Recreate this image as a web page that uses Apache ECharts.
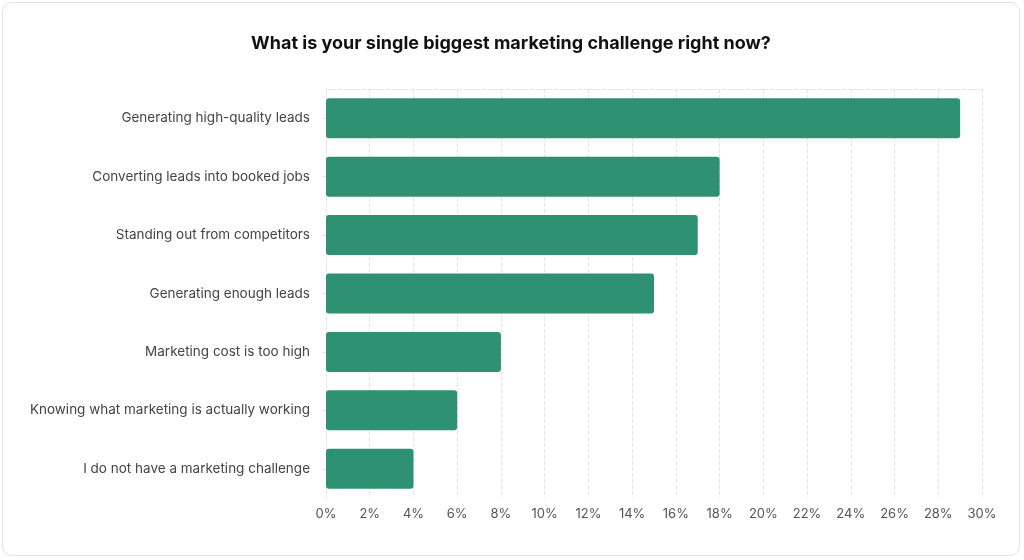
<!DOCTYPE html><html><head><meta charset="utf-8"><script src="https://cdn.jsdelivr.net/npm/echarts@6/dist/echarts.min.js"></script>
<style>html,body{margin:0;background:#fff}#c{position:absolute;left:2px;top:2px;width:1018px;height:554px;border:1px solid #e2e2e2;border-radius:10px;box-sizing:border-box}</style></head><body><div id="c"></div><script>
const categories=["Generating high-quality leads","Converting leads into booked jobs","Standing out from competitors","Generating enough leads","Marketing cost is too high","Knowing what marketing is actually working","I do not have a marketing challenge"];
const values=[29,18,17,15,8,6,4];
const ch=echarts.init(document.getElementById('c'));
const dash={color:'#e4e4e4',type:'dashed',width:1};
ch.setOption({
title:{text:'What is your single biggest marketing challenge right now?',left:'center',top:27,textStyle:{fontFamily:'Inter',fontSize:18,fontWeight:'bold',color:'#111'}},
grid:{left:323,right:37,top:86,bottom:57},
xAxis:[{type:'value',min:0,max:30,interval:2,axisLabel:{formatter:'{value}%',fontFamily:'Inter',fontSize:13,color:'#555',margin:10},splitLine:{show:true,lineStyle:dash},axisLine:{show:false},axisTick:{show:false}},
{type:'value',position:'top',min:0,max:30,axisLabel:{show:false},splitLine:{show:false},axisLine:{show:true,lineStyle:dash},axisTick:{show:false}}],
yAxis:{type:'category',inverse:true,data:categories,axisLine:{show:true,lineStyle:dash},axisTick:{show:true,alignWithLabel:true,length:6,lineStyle:dash},axisLabel:{fontFamily:'Inter',fontSize:13.5,color:'#444',margin:16}},
series:[{type:'bar',data:values,barWidth:40,itemStyle:{color:'#2e9171',borderRadius:3},animation:false}]
});
</script></body></html>
